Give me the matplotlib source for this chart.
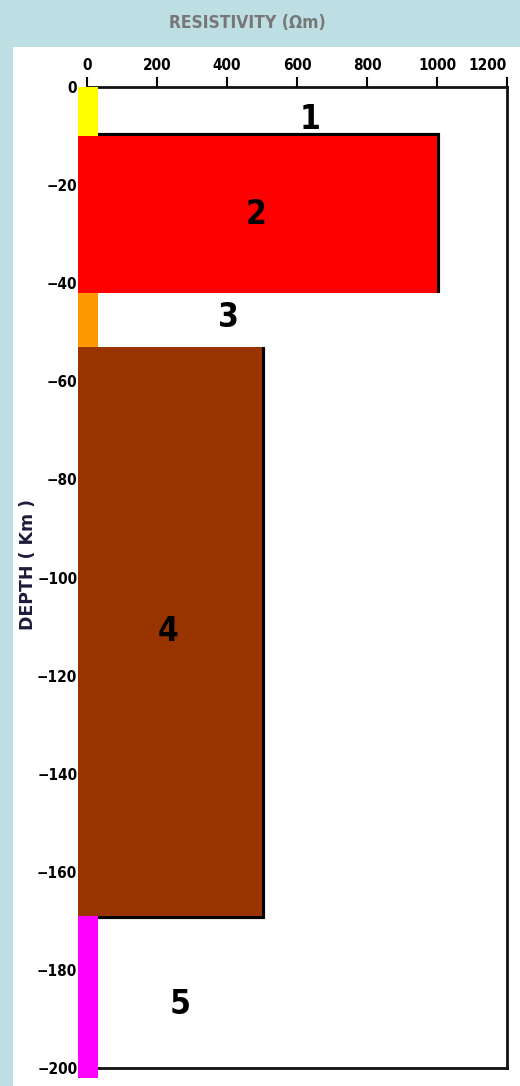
import matplotlib
matplotlib.use("Agg")
import matplotlib.pyplot as plt
from matplotlib.patches import Rectangle

# Layered resistivity model
layer_names = ["1", "2", "3", "4", "5"]
layer_top = [0, 10, 42, 53, 169]          # km
layer_bottom = [10, 42, 53, 169, 202]     # km
layer_res = [30, 1000, 30, 500, 30]       # ohm-m
layer_colors = ["#ffff00", "#ff0000", "#ff9900", "#993300", "#ff00ff"]
label_x = [637, 483, 403, 231, 266]
label_depth = [6.7, 26, 47, 111, 187]

bar_left = -27
x_ticks = [0, 200, 400, 600, 800, 1000, 1200]
y_ticks = [0, -20, -40, -60, -80, -100, -120, -140, -160, -180, -200]

narrow = dict(family="DejaVu Sans", stretch="condensed")

W, H = 520, 1086
fig = plt.figure(figsize=(W / 100, H / 100), dpi=100)
fig.patch.set_facecolor("#bddfe4")
fig.patches.append(Rectangle((13 / W, 0), 1 - 13 / W, 1 - 47 / H,
                             transform=fig.transFigure, facecolor="white",
                             edgecolor="none", zorder=-5))

ax = fig.add_axes([87 / W, 1 - 1068 / H, (507 - 87) / W, (1068 - 87) / H])
ax.set_facecolor("none")
ax.set_xlim(0, 1200)
ax.set_ylim(-200, 0)

# black edges of the resistive layers peeking out from behind the fills
base = layer_res[0]
r2, t2, b2 = layer_res[1], layer_top[1], layer_bottom[1]
ax.plot([base, r2 + 3, r2 + 3], [-t2 + 0.25, -t2 + 0.25, -b2],
        color="black", lw=3, zorder=2, solid_joinstyle="miter",
        solid_capstyle="butt", clip_on=False)
r4, t4, b4 = layer_res[3], layer_top[3], layer_bottom[3]
ax.plot([r4 + 3, r4 + 3, base], [-t4, -b4 - 0.3, -b4 - 0.3],
        color="black", lw=3, zorder=2, solid_joinstyle="miter",
        solid_capstyle="butt", clip_on=False)

for top, bot, r, c in zip(layer_top, layer_bottom, layer_res, layer_colors):
    ax.add_patch(Rectangle((bar_left, -bot), r - bar_left, bot - top,
                           facecolor=c, edgecolor="none", zorder=3,
                           clip_on=False))

for name, x, d in zip(layer_names, label_x, label_depth):
    ax.text(x, -d, name, ha="center", va="center", fontsize=24,
            fontweight="bold", color="black", zorder=4, **narrow)

ax.xaxis.tick_top()
ax.set_xticks(x_ticks)
ax.set_xticklabels([str(v) for v in x_ticks])
ax.set_yticks(y_ticks)
ax.set_yticklabels([str(v).replace("-", "\u2212") for v in y_ticks])
ax.tick_params(axis="x", direction="out", length=7, width=1.5, pad=3,
               labelsize=11, colors="black")
ax.tick_params(axis="y", length=0, pad=7, labelsize=11, colors="black")
for lab in ax.get_xticklabels() + ax.get_yticklabels():
    lab.set_family(narrow["family"])
    lab.set_stretch(narrow["stretch"])
    lab.set_fontweight("bold")
ax.get_xticklabels()[-1].set_horizontalalignment("right")

for side in ["top", "right", "bottom"]:
    ax.spines[side].set_linewidth(2)
    ax.spines[side].set_color("#111111")
ax.spines["left"].set_visible(False)

fig.text(247 / W, 1 - 23 / H, "RESISTIVITY (\u03a9m)", ha="center",
         va="center", fontsize=12.5, fontweight="bold", color="#777777",
         **narrow)
fig.text(28 / W, 1 - 565 / H, "DEPTH ( Km )", ha="center", va="center",
         rotation=90, fontsize=12.5, fontweight="bold", color="#1c1c3a")

fig.savefig("out.png", dpi=100, facecolor=fig.get_facecolor())
